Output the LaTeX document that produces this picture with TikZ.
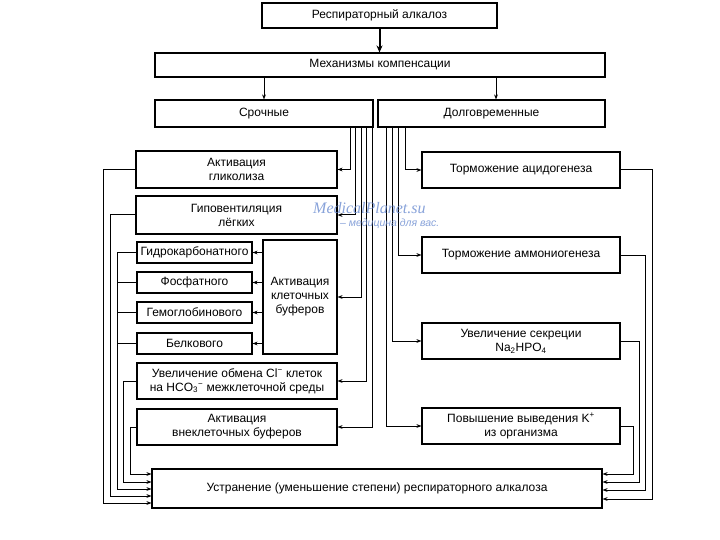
\documentclass[tikz,border=0pt]{standalone}
\usepackage{fontspec}
\setmainfont{Liberation Sans}
\newfontfamily\wmserif{Liberation Serif}
\usetikzlibrary{arrows.meta,calc}
\definecolor{wmblue}{rgb}{0.42,0.55,0.82}
\begin{document}
\begin{tikzpicture}[x=1pt,y=-1pt,
  box/.style={draw, line width=1.1pt, inner sep=1pt, align=center, font=\fontsize{12}{14}\selectfont},
  arr/.style={line width=1pt, -{Stealth[length=5pt,width=3.8pt]}},
  ln/.style={line width=1pt}]
\useasboundingbox (0,0) rectangle (720,540);
\fill[white] (0,0) rectangle (720,540);

% top levels
\node[box, minimum width=235pt, minimum height=25pt] (top) at (379.5,15.5) {Респираторный алкалоз};
\node[box, minimum width=450pt, minimum height=24pt] (mech) at (380,65) {Механизмы компенсации};
\node[box, minimum width=218pt, minimum height=27pt] (sroch) at (264,113.5) {Срочные};
\node[box, minimum width=227pt, minimum height=27pt] (dolg) at (491.5,113.5) {Долговременные};

% left column
\node[box, minimum width=201pt, minimum height=37pt] (glik) at (236.5,169.5) {Активация\\гликолиза};
\node[box, minimum width=201pt, minimum height=38pt] (gipo) at (236.5,215) {Гиповентиляция\\лёгких};
\node[box, minimum width=115pt, minimum height=21pt] (gidro) at (194.5,252.5) {Гидрокарбонатного};
\node[box, minimum width=115pt, minimum height=21pt] (fosf) at (194.5,282.5) {Фосфатного};
\node[box, minimum width=115pt, minimum height=21pt] (gemo) at (194.5,312.5) {Гемоглобинового};
\node[box, minimum width=115pt, minimum height=21pt] (belk) at (194.5,343.5) {Белкового};
\node[box, minimum width=74pt, minimum height=114pt] (klet) at (300,297) {Активация\\клеточных\\буферов};
\node[box, minimum width=200pt, minimum height=36pt] (obmen) at (237,381) {Увеличение обмена Cl\textsuperscript{−} клеток\\на HCO\textsubscript{3}\textsuperscript{−}\ межклеточной среды};
\node[box, minimum width=200pt, minimum height=36pt] (vnekl) at (237,427) {Активация\\внеклеточных буферов};

% right column
\node[box, minimum width=198pt, minimum height=36pt] (acid) at (521,170) {Торможение ацидогенеза};
\node[box, minimum width=198pt, minimum height=36pt] (ammon) at (521,255) {Торможение аммониогенеза};
\node[box, minimum width=198pt, minimum height=36pt] (na) at (521,341) {Увеличение секреции\\Na\textsubscript{2}HPO\textsubscript{4}};
\node[box, minimum width=198pt, minimum height=36pt] (kplus) at (521,426) {Повышение выведения K\textsuperscript{+}\\из организма};

% final
\node[box, minimum width=450pt, minimum height=39pt] (final) at (377,488.5) {Устранение (уменьшение степени) респираторного алкалоза};

% top connectors
\draw[line width=2pt, -{Stealth[length=7pt,width=6pt]}] (top.south) -- (top.south |- mech.north);
\draw[arr] (sroch.north |- mech.south) -- (sroch.north);
\coordinate (d1) at (496,77);
\draw[arr] (d1) -- (d1 |- dolg.north);

% from Срочные
\draw[arr] ($(sroch.south east)+(-23,0)$) |- (glik.east);
\draw[arr] ($(sroch.south east)+(-18,0)$) |- (gipo.east);
\draw[arr] ($(sroch.south east)+(-12,0)$) |- (klet.east);
\draw[arr] ($(sroch.south east)+(-7,0)$) |- (obmen.east);
\draw[arr] ($(sroch.south east)+(-1,0)$) |- (vnekl.east);

% cell buffers
\draw[arr] (klet.west |- gidro.east) -- (gidro.east);
\draw[arr] (klet.west |- fosf.east) -- (fosf.east);
\draw[arr] (klet.west |- gemo.east) -- (gemo.east);
\draw[arr] (klet.west |- belk.east) -- (belk.east);

% from Долговременные
\draw[arr] ($(dolg.south west)+(28,0)$) |- (acid.west);
\draw[arr] ($(dolg.south west)+(21,0)$) |- (ammon.west);
\draw[arr] ($(dolg.south west)+(15,0)$) |- (na.west);
\draw[arr] ($(dolg.south west)+(9,0)$) |- (kplus.west);

% left outputs
\draw[arr] (glik.west) -- ++(-32,0) |- ($(final.west)+(0,14.5)$);
\draw[arr] (gipo.west) -- ++(-25,0) |- ($(final.west)+(0,7.5)$);
\draw[ln] (gidro.west) -- ++(-19,0) coordinate (bus);
\draw[ln] (fosf.west) -- (fosf.west -| bus);
\draw[ln] (gemo.west) -- (gemo.west -| bus);
\draw[ln] (belk.west) -- (belk.west -| bus);
\draw[arr] (bus) |- ($(final.west)+(0,0.5)$);
\draw[arr] (obmen.west) -- ++(-13,0) |- ($(final.west)+(0,-6.5)$);
\draw[arr] (vnekl.west) -- ++(-6,0) |- ($(final.west)+(0,-14.5)$);

% right outputs
\draw[arr] (acid.east) -- ++(32,0) |- ($(final.east)+(0,10.5)$);
\draw[arr] (ammon.east) -- ++(25,0) |- ($(final.east)+(0,1.5)$);
\draw[arr] (na.east) -- ++(19,0) |- ($(final.east)+(0,-6.5)$);
\draw[arr] (kplus.east) -- ++(13,0) |- ($(final.east)+(0,-14.5)$);

% watermark
\node[anchor=base west, inner sep=0, text=wmblue, opacity=0.8, font=\wmserif\itshape\fontsize{16}{16}\selectfont] (wm1) at (313,214) {MedicalPlanet.su};
\node[anchor=base west, inner sep=0, text=wmblue, opacity=0.8, font=\itshape\fontsize{10.5}{12}\selectfont] (wm2) at (340,226) {– медицина для вас.};
\end{tikzpicture}
\end{document}
